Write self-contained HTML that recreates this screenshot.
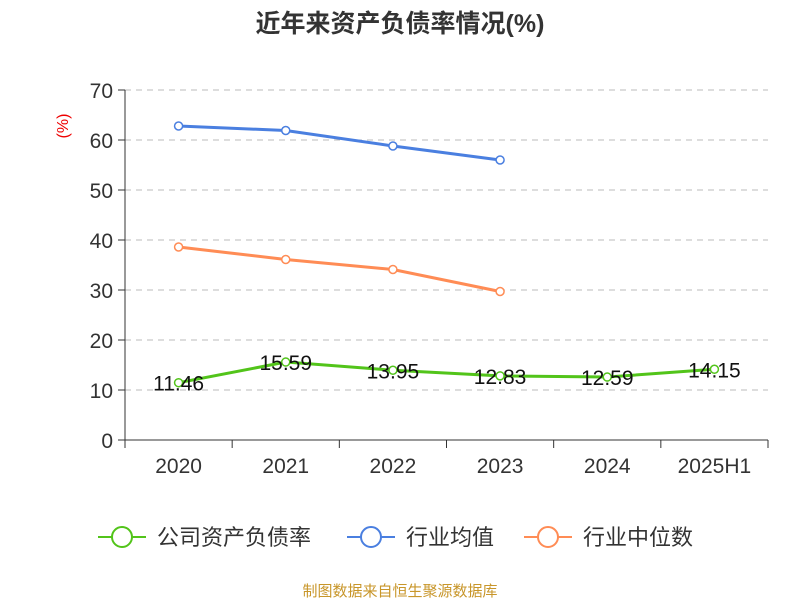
<!DOCTYPE html>
<html><head><meta charset="utf-8"><style>
body{margin:0;background:#fff;font-family:"Liberation Sans","Noto Sans CJK SC",sans-serif}
svg text{font-family:"Liberation Sans","Noto Sans CJK SC",sans-serif}
</style></head><body>
<svg id="c" width="800" height="600">
<text x="400" y="32" text-anchor="middle" font-size="25" font-weight="bold" fill="#333">近年来资产负债率情况(%)</text>
<text transform="translate(68,126) rotate(-90)" text-anchor="middle" font-size="16" fill="#e00">(%)</text>
<g id="grid"></g><g id="series"></g>
<g>
<g><line x1="98" y1="537" x2="146" y2="537" stroke="#52c41a" stroke-width="2"/><circle cx="122" cy="537" r="10" fill="#fff" stroke="#52c41a" stroke-width="2"/><text x="157" y="545" font-size="22" fill="#333">公司资产负债率</text></g>
<g><line x1="347" y1="537" x2="395" y2="537" stroke="#4a7fe0" stroke-width="2"/><circle cx="371" cy="537" r="10" fill="#fff" stroke="#4a7fe0" stroke-width="2"/><text x="406" y="545" font-size="22" fill="#333">行业均值</text></g>
<g><line x1="524" y1="537" x2="572" y2="537" stroke="#ff8c55" stroke-width="2"/><circle cx="548" cy="537" r="10" fill="#fff" stroke="#ff8c55" stroke-width="2"/><text x="583" y="545" font-size="22" fill="#333">行业中位数</text></g>
</g>
<text x="400" y="596" text-anchor="middle" font-size="15" fill="#c8962a">制图数据来自恒生聚源数据库</text>
</svg>
<script>
const categories=["2020","2021","2022","2023","2024","2025H1"];
const companyValues=[11.46,15.59,13.95,12.83,12.59,14.15];
const industryAvg=[62.8,61.9,58.8,56.0];
const industryMedian=[38.6,36.1,34.1,29.7];
const yTicks=[0,10,20,30,40,50,60,70];
const NS="http://www.w3.org/2000/svg";
const x0=125,x1=768,yb=440,yt=90,ymax=70;
const bw=(x1-x0)/categories.length;
const xs=i=>x0+bw*(i+0.5);
const ys=v=>yb-(v/ymax)*(yb-yt);
function mk(p,t,a){const e=document.createElementNS(NS,t);for(const k in a)e.setAttribute(k,a[k]);p.appendChild(e);return e;}
const g=document.getElementById('grid'),s=document.getElementById('series');
yTicks.forEach(v=>{
 if(v>0){const l=mk(g,'line',{x1:x0,x2:x1,y1:ys(v),y2:ys(v),stroke:'#bbb','stroke-dasharray':'6,5'});
 
 }
 const tk=mk(g,'line',{x1:x0-7,x2:x0,y1:ys(v),y2:ys(v),stroke:'#333'});
 
 
 const t=mk(g,'text',{x:x0-12,y:ys(v)+8,'text-anchor':'end','font-size':'21',fill:'#333'});t.textContent=v;
 
 
});
const ya=mk(g,'line',{x1:x0,x2:x0,y1:yt,y2:yb,stroke:'#333'});


const xa=mk(g,'line',{x1:x0,x2:x1,y1:yb,y2:yb,stroke:'#333'});


for(let i=0;i<=categories.length;i++){const tk=mk(g,'line',{x1:x0+bw*i,x2:x0+bw*i,y1:yb,y2:yb+8,stroke:'#333'});
 
 }
categories.forEach((c,i)=>{const t=mk(g,'text',{x:xs(i),y:473,'text-anchor':'middle','font-size':'21',fill:'#333'});t.textContent=c;
 
 });
function series(vals,color,name,labels){
 const pl=mk(s,'polyline',{points:vals.map((v,i)=>xs(i)+','+ys(v)).join(' '),fill:'none',stroke:color,'stroke-width':3});
 
 
 vals.forEach((v,i)=>{const c=mk(s,'circle',{cx:xs(i),cy:ys(v),r:4,fill:'#fff',stroke:color,'stroke-width':1.5});
  
  
  if(labels){const t=mk(s,'text',{x:xs(i),y:ys(v)+8,'text-anchor':'middle','font-size':'21',fill:'#111'});t.textContent=v.toFixed(2);
   
   }
 });
}
series(industryAvg,'#4a7fe0','industry-avg',false);
series(industryMedian,'#ff8c55','industry-median',false);
series(companyValues,'#52c41a','company',true);
</script>
</body></html>
